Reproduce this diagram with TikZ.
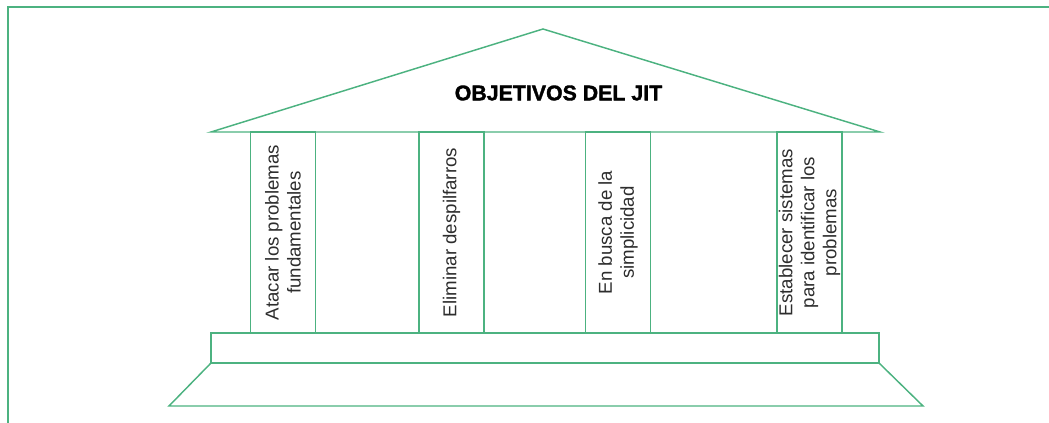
\documentclass[tikz,border=0pt]{standalone}
\usepackage{fontspec}
\setmainfont{Liberation Sans}
\newfontfamily\titlefont[FakeBold=1.6]{Liberation Sans Bold}
\usepackage{tikz}
\usetikzlibrary{calc}
\definecolor{jitgreen}{RGB}{76,178,128}
\definecolor{jittext}{RGB}{45,45,45}

\begin{document}
\begin{tikzpicture}[x=0.75pt, y=-0.75pt, line width=1.1pt,
        column/.style={draw=jitgreen, rotate=90, minimum width=150.75pt, minimum height=48.5pt, inner sep=0pt, align=center, text=jittext, font=\fontsize{14}{16.5}\selectfont}]
            \useasboundingbox (0,0) rectangle (1049,423);
            \coordinate (FrameS) at (8,423);
            \coordinate (FrameNW) at (8,7);
            \coordinate (FrameE) at (1049,7);
            \coordinate (RoofL) at (211,132);
            \coordinate (RoofR) at (880,132);
            \coordinate (RoofTop) at (543,29);
            \coordinate (PlinthNW) at (211,333);
            \coordinate (PlinthSE) at (879,363);
            \coordinate (StepSW) at (169,406);
            \coordinate (StepSE) at (923,406);
            \node[font=\fontsize{16}{19}\titlefont] (Title) at (558.5,93) {OBJETIVOS DEL JIT};
            \node[column] (Col0) at (283,232.5) {Atacar los problemas\\fundamentales};
            \node[column] (Col1) at (451.5,232.5) {Eliminar despilfarros};
            \node[column] (Col2) at (618,232.5) {En busca de la\\simplicidad};
            \node[column] (Col3) at (809.5,232.5) {Establecer sistemas\\para identificar los\\problemas};
            \draw[jitgreen] (FrameS) -- (FrameNW) -- (FrameE);
            \draw[jitgreen] (RoofL) -- (RoofTop) -- (RoofR) -- cycle;
            \draw[jitgreen] (PlinthNW) rectangle (PlinthSE);
            \draw[jitgreen] (PlinthNW |- PlinthSE) -- (StepSW) -- (StepSE) -- (PlinthSE);
        \end{tikzpicture}
\end{document}
